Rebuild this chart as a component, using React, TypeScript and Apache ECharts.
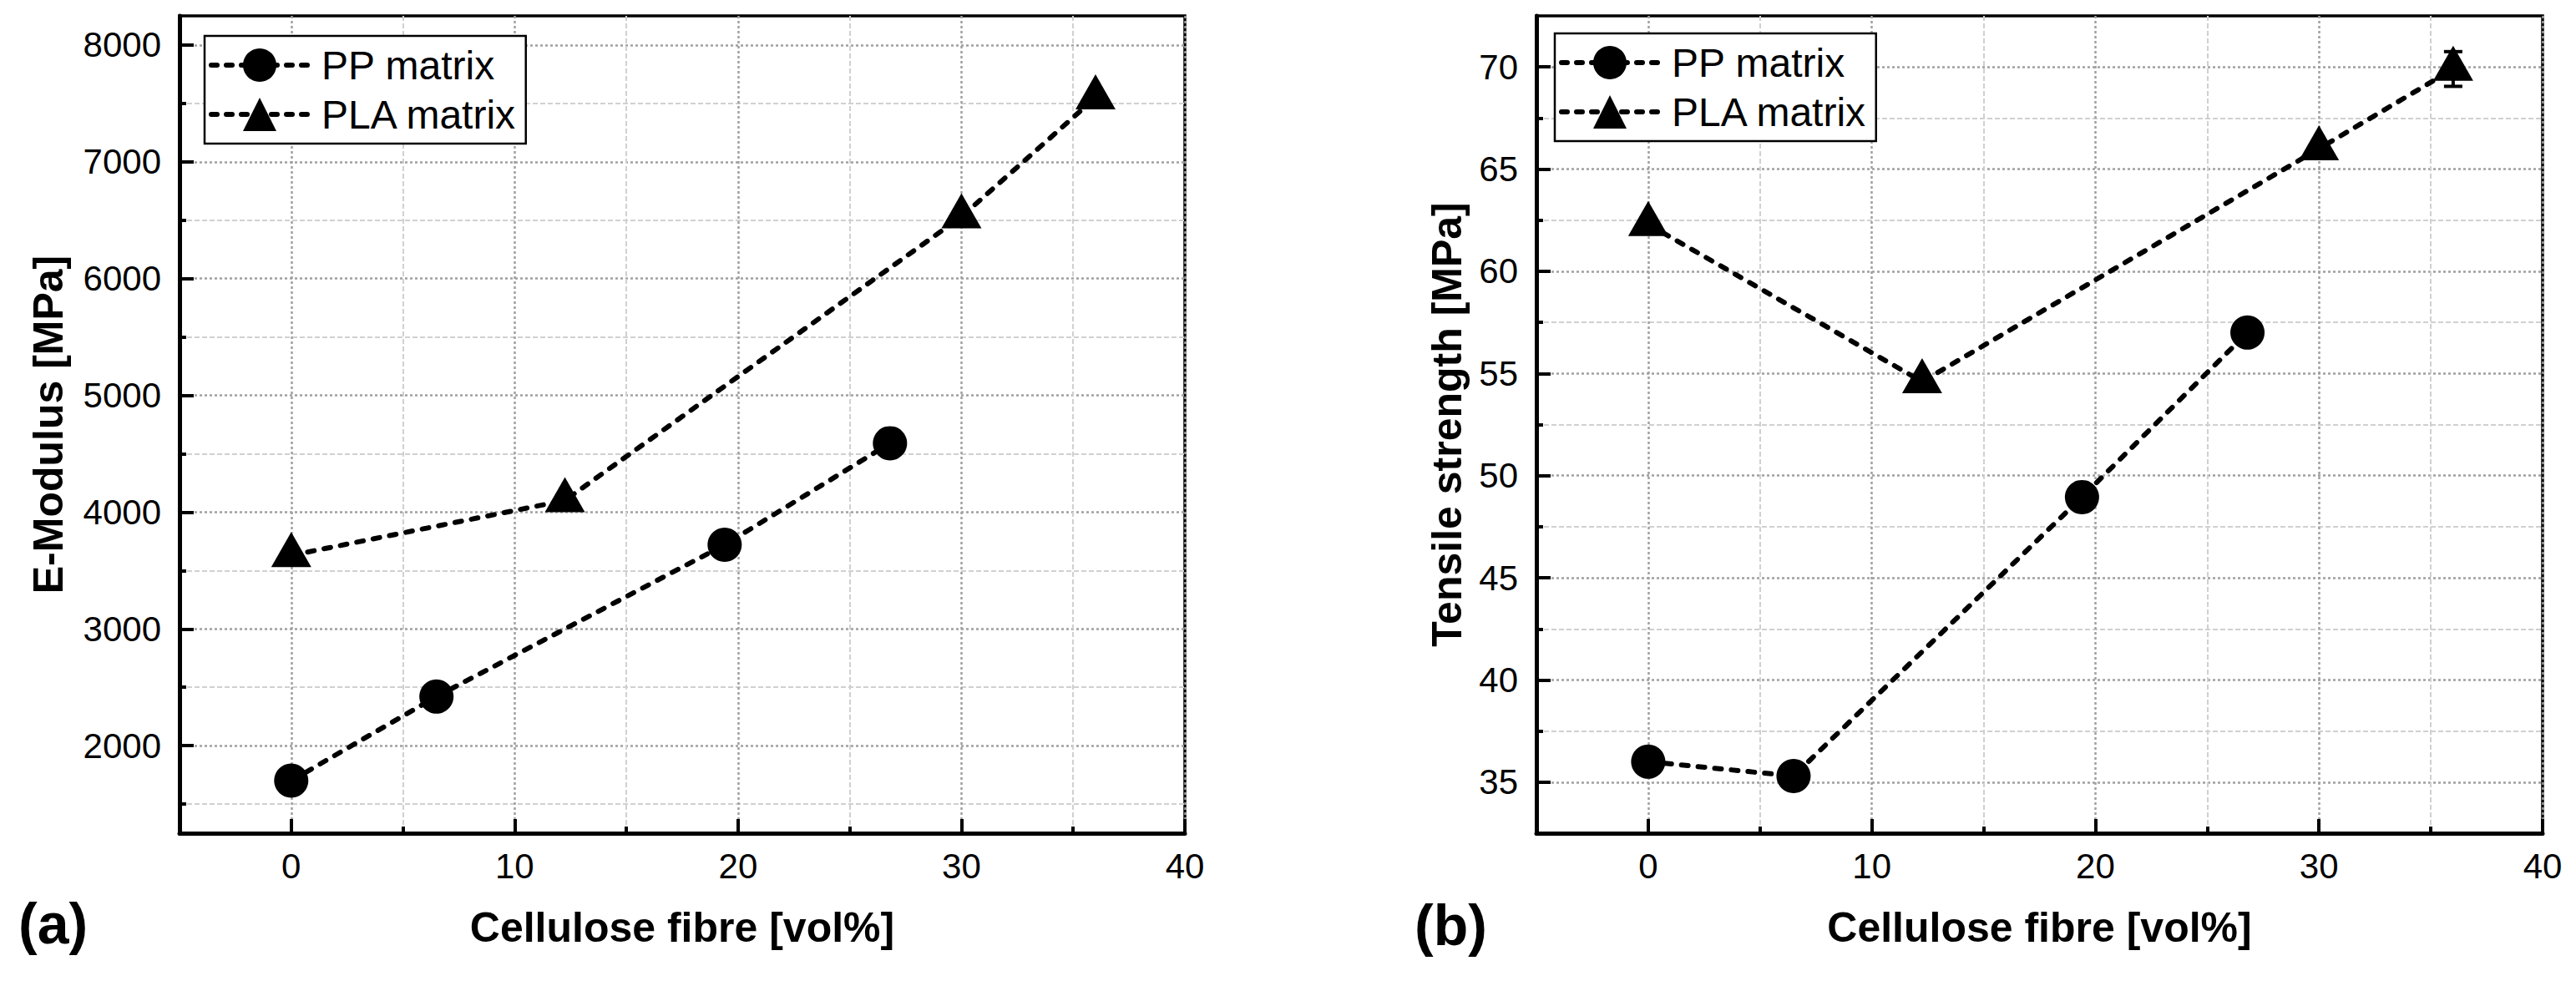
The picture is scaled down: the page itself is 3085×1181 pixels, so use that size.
import React, { useEffect, useRef } from "react";
import * as echarts from "echarts";

// ---- data ----
const fibreVolPP = [0, 6.5, 19.4, 26.8];
const fibreVolPLA = [0, 12.25, 30, 36];
const eModulusPP = [1700, 2420, 3720, 4590];
const eModulusPLA = [3630, 4100, 6530, 7550];
const tensilePP = [36.0, 35.3, 48.95, 57.0];
const tensilePLA = [62.3, 54.6, 66.0, 69.9];
const tensilePLAError: (number | null)[] = [null, null, null, 0.85];

const xMajorTicks = [0, 10, 20, 30, 40];
const xMinorTicks = [5, 15, 25, 35];
const eMajorTicks = [2000, 3000, 4000, 5000, 6000, 7000, 8000];
const eMinorTicks = [1500, 2500, 3500, 4500, 5500, 6500, 7500];
const tMajorTicks = [35, 40, 45, 50, 55, 60, 65, 70];
const tMinorTicks = [37.5, 42.5, 47.5, 52.5, 57.5, 62.5, 67.5];

const seriesNames = ["PP matrix", "PLA matrix"];
const xTitle = "Cellulose fibre [vol%]";
const yTitleLeft = "E-Modulus [MPa]";
const yTitleRight = "Tensile strength [MPa]";

const FONT = '"Liberation Sans", Arial, Helvetica, sans-serif';
const LINE_DASH = [8, 12];

const zip = (xs: number[], ys: number[]) => xs.map((x, i) => [x, ys[i]]);

function majorAxis(gridIndex: number, min: number, max: number, ticks: number[], horizontal: boolean, name: string, nameGap: number) {
  return {
    type: "value",
    gridIndex,
    min,
    max,
    position: horizontal ? "bottom" : "left",
    name,
    nameLocation: "middle",
    nameGap,
    nameRotate: horizontal ? 0 : 90,
    nameTextStyle: { fontFamily: FONT, fontSize: 50, fontWeight: "bold", color: "#000" },
    axisLine: { show: true, onZero: false, lineStyle: { color: "#000", width: 5 } },
    axisTick: { show: true, inside: true, length: 17, customValues: ticks, lineStyle: { color: "#000", width: 4 } },
    axisLabel: {
      show: true,
      customValues: ticks,
      formatter: (v: number) => String(v),
      fontFamily: FONT,
      fontSize: 42,
      color: "#000",
      margin: horizontal ? 18 : 22,
    },
    splitLine: { show: true, lineStyle: { color: "#a0a0a0", width: 2.5, type: [3, 3] } },
    minorTick: { show: false },
    minorSplitLine: { show: false },
  };
}

function minorAxis(gridIndex: number, min: number, max: number, ticks: number[], horizontal: boolean) {
  return {
    type: "value",
    gridIndex,
    min,
    max,
    position: horizontal ? "bottom" : "left",
    axisLine: { show: false, onZero: false },
    axisTick: { show: true, inside: true, length: 8, customValues: ticks, lineStyle: { color: "#000", width: 4 } },
    axisLabel: { show: false, customValues: ticks },
    splitLine: { show: true, lineStyle: { color: "#d0d0d0", width: 2, type: [6, 3] } },
  };
}

const lineSeries = (name: string, xi: number, data: number[][], triangle: boolean) => ({
  type: "line",
  name,
  xAxisIndex: xi,
  yAxisIndex: xi,
  data,
  z: 3,
  symbol: triangle ? "triangle" : "circle",
  symbolSize: triangle ? [48, 42] : 41,
  symbolOffset: triangle ? [0, -7] : [0, 0],
  itemStyle: { color: "#000" },
  lineStyle: { color: "#000", width: 6, type: LINE_DASH, cap: "round" },
});

const legendBox = (left: number, top: number) => ({
  data: seriesNames,
  orient: "vertical",
  left,
  top,
  itemWidth: 116,
  itemHeight: 50,
  itemGap: 11,
  padding: [11, 10, 11, 5],
  borderColor: "#000",
  borderWidth: 2.5,
  backgroundColor: "#fff",
  lineStyle: { color: "#000", width: 6, type: [7, 11], cap: "round" },
  textStyle: { fontFamily: FONT, fontSize: 48, color: "#000", padding: [0, 0, 0, 11] },
});

export default function App() {
  const ref = useRef<HTMLDivElement>(null);
  useEffect(() => {
    if (!ref.current) return;
    const chart = echarts.init(ref.current, null, { renderer: "svg" });
    const errData = fibreVolPLA
      .map((x, i) => (tensilePLAError[i] == null ? null : [x, tensilePLA[i] - (tensilePLAError[i] as number), tensilePLA[i] + (tensilePLAError[i] as number)]))
      .filter((d) => d !== null);
    chart.setOption({
      animation: false,
      backgroundColor: "#fff",
      grid: [
        { left: 215, top: 19, width: 1204, height: 979, show: true, borderColor: "#000", borderWidth: 3.5, backgroundColor: "transparent" },
        { left: 1840, top: 19, width: 1205, height: 979, show: true, borderColor: "#000", borderWidth: 3.5, backgroundColor: "transparent" },
      ],
      xAxis: [
        majorAxis(0, -5, 40, xMajorTicks, true, xTitle, 88),
        minorAxis(0, -5, 40, xMinorTicks, true),
        majorAxis(1, -5, 40, xMajorTicks, true, xTitle, 88),
        minorAxis(1, -5, 40, xMinorTicks, true),
      ],
      yAxis: [
        majorAxis(0, 1250, 8250, eMajorTicks, false, yTitleLeft, 132),
        minorAxis(0, 1250, 8250, eMinorTicks, false),
        majorAxis(1, 32.5, 72.5, tMajorTicks, false, yTitleRight, 82),
        minorAxis(1, 32.5, 72.5, tMinorTicks, false),
      ],
      legend: [legendBox(245, 43), legendBox(1862, 40)],
      series: [
        lineSeries(seriesNames[0], 0, zip(fibreVolPP, eModulusPP), false),
        lineSeries(seriesNames[1], 0, zip(fibreVolPLA, eModulusPLA), true),
        lineSeries(seriesNames[0], 2, zip(fibreVolPP, tensilePP), false),
        lineSeries(seriesNames[1], 2, zip(fibreVolPLA, tensilePLA), true),
        {
          type: "custom",
          name: "PLA error",
          xAxisIndex: 2,
          yAxisIndex: 2,
          z: 4,
          data: errData,
          renderItem: (params: any, api: any) => {
            const x = api.value(0);
            const lo = api.coord([x, api.value(1)]);
            const hi = api.coord([x, api.value(2)]);
            const w = 11;
            const st = { stroke: "#000", lineWidth: 4 };
            return {
              type: "group",
              children: [
                { type: "line", shape: { x1: lo[0], y1: lo[1], x2: hi[0], y2: hi[1] }, style: st },
                { type: "line", shape: { x1: lo[0] - w, y1: lo[1], x2: lo[0] + w, y2: lo[1] }, style: st },
                { type: "line", shape: { x1: hi[0] - w, y1: hi[1], x2: hi[0] + w, y2: hi[1] }, style: st },
              ],
            };
          },
        },
      ],
      graphic: [
        { type: "text", x: 22, y: 1106, style: { text: "(a)", fontFamily: FONT, fontSize: 68, fontWeight: "bold", fill: "#000", verticalAlign: "middle" } },
        { type: "text", x: 1694, y: 1108, style: { text: "(b)", fontFamily: FONT, fontSize: 68, fontWeight: "bold", fill: "#000", verticalAlign: "middle" } },
      ],
    });
    return () => chart.dispose();
  }, []);
  return <div ref={ref} style={{ position: "absolute", left: 0, top: 0, width: 3085, height: 1181, background: "#fff" }} />;
}
